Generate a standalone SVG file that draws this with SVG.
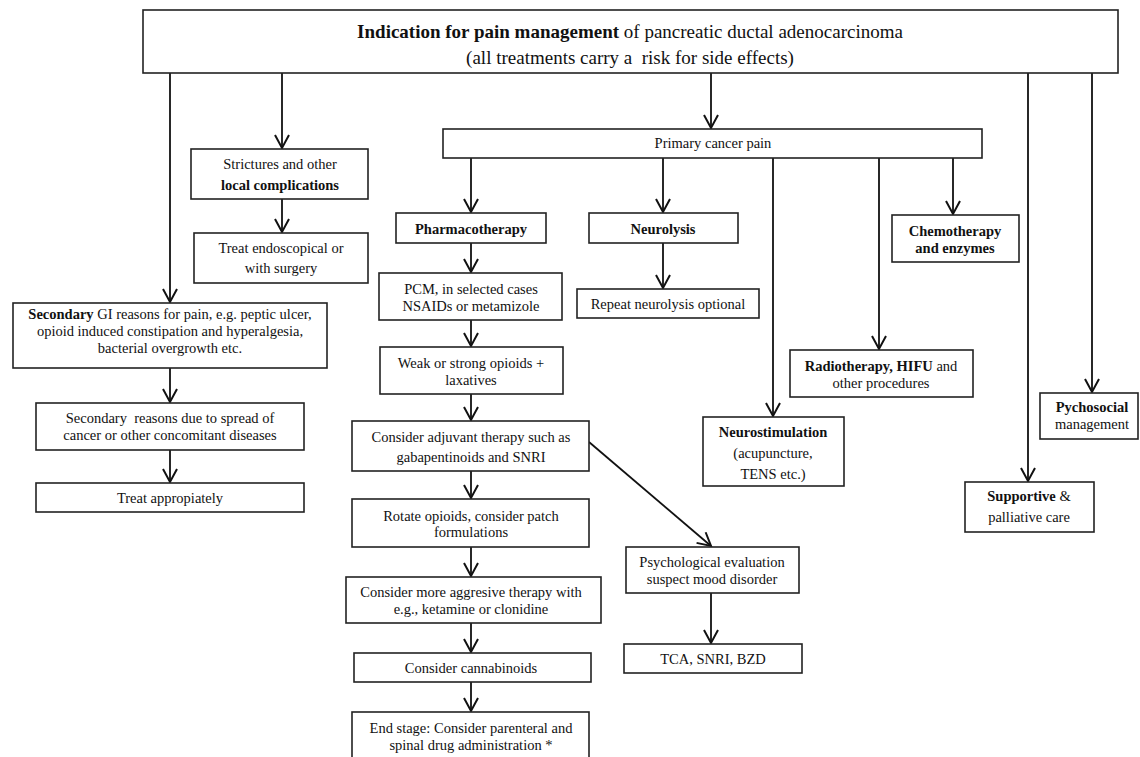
<svg xmlns="http://www.w3.org/2000/svg" width="1140" height="757" viewBox="0 0 1140 757">
<style>
  .box { fill: #fff; stroke: #222; stroke-width: 1.6; }
  .t { font-family: "Liberation Serif", "Times New Roman", serif; font-size: 14.5px; fill: #111; text-anchor: middle; }
  .title { font-family: "Liberation Serif", "Times New Roman", serif; font-size: 19px; fill: #111; text-anchor: middle; white-space: pre; }
  .b { font-weight: bold; }
  .c { fill: none; stroke: #111; stroke-width: 1.8; marker-end: url(#arr); }
</style>
<defs>
  <marker id="arr" markerUnits="userSpaceOnUse" orient="auto" refX="0" refY="0" markerWidth="20" markerHeight="20" viewBox="-16 -10 18 20" overflow="visible">
    <path d="M-13,-7 L0,0 L-13,7" fill="none" stroke="#111" stroke-width="2"/>
  </marker>
</defs>
<rect width="1140" height="757" fill="#fff"/>

<g id="connectors">
  <line class="c" x1="170" y1="73" x2="170" y2="302"/>
  <line class="c" x1="282" y1="73" x2="282" y2="148"/>
  <line class="c" x1="711" y1="73" x2="711" y2="128"/>
  <line class="c" x1="1028" y1="73" x2="1028" y2="481"/>
  <line class="c" x1="1092" y1="73" x2="1092" y2="392"/>
  <line class="c" x1="282" y1="199" x2="282" y2="232"/>
  <line class="c" x1="170" y1="368" x2="170" y2="402"/>
  <line class="c" x1="170" y1="450" x2="170" y2="482"/>
  <line class="c" x1="471" y1="158" x2="471" y2="212"/>
  <line class="c" x1="663" y1="158" x2="663" y2="212"/>
  <line class="c" x1="773" y1="158" x2="773" y2="416"/>
  <line class="c" x1="879" y1="158" x2="879" y2="349"/>
  <line class="c" x1="953" y1="158" x2="953" y2="214"/>
  <line class="c" x1="663" y1="243" x2="663" y2="288"/>
  <line class="c" x1="471" y1="243" x2="471" y2="272"/>
  <line class="c" x1="471" y1="320" x2="471" y2="346"/>
  <line class="c" x1="471" y1="394" x2="471" y2="420"/>
  <line class="c" x1="471" y1="471" x2="471" y2="498"/>
  <line class="c" x1="471" y1="547" x2="471" y2="576"/>
  <line class="c" x1="471" y1="623" x2="471" y2="652"/>
  <line class="c" x1="471" y1="682" x2="471" y2="711"/>
  <line class="c" x1="589" y1="442" x2="711" y2="546"/>
  <line class="c" x1="711" y1="593" x2="711" y2="643"/>
</g>

<g id="top">
  <rect class="box" x="143" y="10" width="975" height="63"/>
  <text class="title" x="630" y="38"><tspan class="b">Indication for pain management</tspan> of pancreatic ductal adenocarcinoma</text>
  <text class="title" x="630" y="64">(all treatments carry a  risk for side effects)</text>
</g>

<g id="strictures">
  <rect class="box" x="191" y="149" width="177" height="50"/>
  <text class="t" x="280" y="169">Strictures and other</text>
  <text class="t b" x="280" y="190">local complications</text>
</g>
<g id="treat-endo">
  <rect class="box" x="194" y="233" width="174" height="50"/>
  <text class="t" x="281" y="253">Treat endoscopical or</text>
  <text class="t" x="281" y="273">with surgery</text>
</g>

<g id="secondary-gi">
  <rect class="box" x="13" y="303" width="314" height="65"/>
  <text class="t" x="170" y="319"><tspan class="b">Secondary</tspan> GI reasons for pain, e.g. peptic ulcer,</text>
  <text class="t" x="170" y="336">opioid induced constipation and hyperalgesia,</text>
  <text class="t" x="170" y="353">bacterial overgrowth etc.</text>
</g>
<g id="secondary-spread">
  <rect class="box" x="36" y="403" width="268" height="47"/>
  <text class="t" x="170" y="423" style="white-space:pre">Secondary  reasons due to spread of</text>
  <text class="t" x="170" y="440">cancer or other concomitant diseases</text>
</g>
<g id="treat-appropiately">
  <rect class="box" x="36" y="483" width="268" height="29"/>
  <text class="t" x="170" y="503">Treat appropiately</text>
</g>

<g id="primary">
  <rect class="box" x="443" y="129" width="539" height="29"/>
  <text class="t" x="713" y="148">Primary cancer pain</text>
</g>

<g id="pharmacotherapy">
  <rect class="box" x="396" y="213" width="150" height="30"/>
  <text class="t b" x="471" y="234">Pharmacotherapy</text>
</g>
<g id="neurolysis">
  <rect class="box" x="589" y="213" width="149" height="30"/>
  <text class="t b" x="663" y="234">Neurolysis</text>
</g>
<g id="repeat">
  <rect class="box" x="577" y="289" width="182" height="29"/>
  <text class="t" x="668" y="309">Repeat neurolysis optional</text>
</g>
<g id="chemo">
  <rect class="box" x="892" y="215" width="127" height="47"/>
  <text class="t b" x="955" y="236">Chemotherapy</text>
  <text class="t b" x="955" y="253">and enzymes</text>
</g>
<g id="radio">
  <rect class="box" x="790" y="350" width="183" height="47"/>
  <text class="t" x="881" y="371"><tspan class="b">Radiotherapy, HIFU</tspan> and</text>
  <text class="t" x="881" y="388">other procedures</text>
</g>
<g id="neurostim">
  <rect class="box" x="703" y="417" width="141" height="69"/>
  <text class="t b" x="773" y="437">Neurostimulation</text>
  <text class="t" x="773" y="458">(acupuncture,</text>
  <text class="t" x="773" y="479">TENS etc.)</text>
</g>
<g id="supportive">
  <rect class="box" x="965" y="482" width="129" height="50"/>
  <text class="t" x="1029" y="501"><tspan class="b">Supportive</tspan> &amp;</text>
  <text class="t" x="1029" y="522">palliative care</text>
</g>
<g id="pychosocial">
  <rect class="box" x="1040" y="393" width="98" height="46"/>
  <text class="t b" x="1092" y="412">Pychosocial</text>
  <text class="t" x="1092" y="429">management</text>
</g>

<g id="pcm">
  <rect class="box" x="379" y="273" width="183" height="47"/>
  <text class="t" x="471" y="294">PCM, in selected cases</text>
  <text class="t" x="471" y="311">NSAIDs or metamizole</text>
</g>
<g id="opioids">
  <rect class="box" x="380" y="347" width="183" height="47"/>
  <text class="t" x="471" y="368">Weak or strong opioids +</text>
  <text class="t" x="471" y="385">laxatives</text>
</g>
<g id="adjuvant">
  <rect class="box" x="352" y="421" width="237" height="50"/>
  <text class="t" x="471" y="442">Consider adjuvant therapy such as</text>
  <text class="t" x="471" y="462">gabapentinoids and SNRI</text>
</g>
<g id="rotate">
  <rect class="box" x="352" y="499" width="237" height="48"/>
  <text class="t" x="471" y="521">Rotate opioids, consider patch</text>
  <text class="t" x="471" y="537">formulations</text>
</g>
<g id="aggressive">
  <rect class="box" x="346" y="577" width="255" height="46"/>
  <text class="t" x="471" y="597">Consider more aggresive therapy with</text>
  <text class="t" x="471" y="614">e.g., ketamine or clonidine</text>
</g>
<g id="cannabinoids">
  <rect class="box" x="354" y="653" width="237" height="29"/>
  <text class="t" x="471" y="673">Consider cannabinoids</text>
</g>
<g id="endstage">
  <rect class="box" x="352" y="712" width="237" height="60"/>
  <text class="t" x="471" y="733">End stage: Consider parenteral and</text>
  <text class="t" x="471" y="750">spinal drug administration *</text>
</g>

<g id="psych">
  <rect class="box" x="626" y="547" width="173" height="46"/>
  <text class="t" x="712" y="567">Psychological evaluation</text>
  <text class="t" x="712" y="584">suspect mood disorder</text>
</g>
<g id="tca">
  <rect class="box" x="624" y="644" width="178" height="29"/>
  <text class="t" x="713" y="664">TCA, SNRI, BZD</text>
</g>
</svg>
